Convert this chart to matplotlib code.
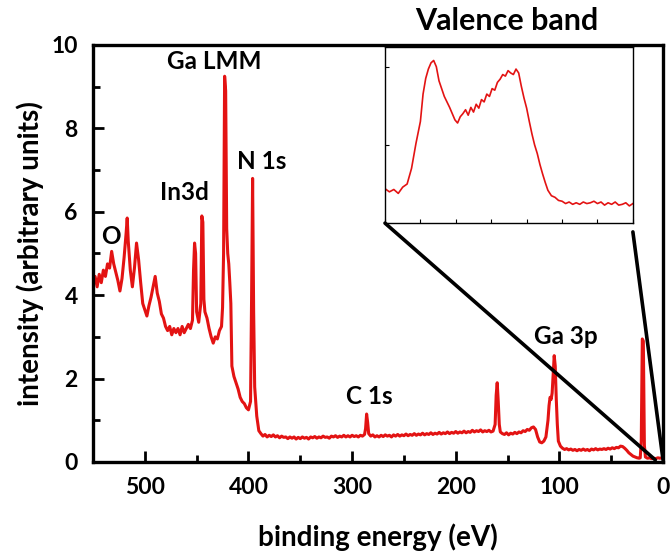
import matplotlib
matplotlib.use('Agg')
import matplotlib.pyplot as plt
from matplotlib.patches import ConnectionPatch
from matplotlib.ticker import MultipleLocator

plt.rcParams['font.family'] = ['Lato', 'DejaVu Sans']
plt.rcParams['font.weight'] = 'bold'

# survey spectrum (binding energy in eV, intensity)
energy = [550, 548, 546, 544, 542, 540, 538, 536, 534, 532, 530, 528, 526, 524, 522, 520,
          518, 517, 516, 514, 512, 510, 508, 506, 504, 502, 500, 498, 496, 494, 492, 490,
          488, 486, 484, 482, 480, 478, 476, 474, 472, 470, 468, 466, 464, 462, 460, 458,
          456, 454, 453, 452, 451, 450, 448, 446, 445, 444, 443, 442, 440, 438, 436, 434,
          432, 430, 428, 426, 425, 424, 423, 422, 421, 420, 419, 418, 417, 416, 414, 412,
          410, 408, 406, 404, 402, 400, 398, 397, 396, 395, 394, 392, 390,
          388, 386, 384, 382, 380, 378, 376, 374, 372, 370, 368, 366, 364, 362, 360, 358,
          356, 354, 352, 350, 348, 346, 344, 342, 340, 338, 336, 334, 332, 330, 328, 326,
          324, 322, 320, 318, 316, 314, 312, 310, 308, 306, 304, 302, 300, 298, 296, 294,
          292, 290, 288, 287, 286, 285, 284, 282,
          280, 278, 276, 274, 272, 270, 268, 266, 264, 262, 260, 258, 256, 254, 252, 250,
          248, 246, 244, 242, 240, 238, 236, 234, 232, 230, 228, 226, 224, 222, 220, 218,
          216, 214, 212, 210, 208, 206, 204, 202, 200, 198, 196, 194, 192, 190, 188, 186,
          184, 182, 180, 178, 176, 174, 172, 170, 168, 166, 164, 162, 161, 160, 159, 158, 157,
          155, 153, 151, 149, 147, 145, 143, 141, 139, 137, 135, 133, 131, 129, 127, 125,
          123, 121, 119, 117, 115, 113, 111, 110, 109, 108, 107, 106, 105, 104, 103, 102,
          101, 99, 97, 95, 93, 91, 89, 87, 85, 83, 81, 79, 77, 75, 73, 71,
          69, 67, 65, 63, 61, 59, 57, 55, 53, 51, 49, 47, 45, 43, 41, 39,
          37, 35, 33, 31, 29, 27, 25, 23, 22, 21, 20, 19, 18, 17, 15, 13,
          11, 9, 7, 5, 3, 1, 0]
intensity = [4.25, 4.45, 4.2, 4.5, 4.3, 4.6, 4.45, 4.75, 4.65, 5.05, 4.75, 4.55, 4.35, 4.1, 4.4, 4.9,
             5.5, 5.85, 5.3, 4.6, 4.2, 4.65, 5.25, 4.85, 4.3, 3.8, 3.65, 3.5, 3.75, 3.95, 4.2, 4.45,
             4.05, 3.85, 3.55, 3.45, 3.25, 3.15, 3.25, 3.05, 3.2, 3.1, 3.2, 3.05, 3.25, 3.1, 3.2, 3.3,
             3.2, 3.4, 4.6, 5.25, 5.0, 3.6, 3.35, 3.8, 5.9, 5.75, 3.9, 3.6, 3.45, 3.2, 3.0, 2.85,
             3.0, 2.95, 3.15, 3.25, 3.7, 5.0, 9.25, 8.9, 5.6, 5.0, 4.75, 4.3, 3.8, 2.3, 2.05, 1.9,
             1.75, 1.55, 1.45, 1.4, 1.3, 1.25, 1.45, 3.9, 6.8, 3.6, 1.8, 1.1, 0.75,
             0.68, 0.62, 0.66, 0.6, 0.64, 0.61, 0.65, 0.6, 0.63, 0.58, 0.62, 0.59, 0.6, 0.56, 0.6, 0.57,
             0.6, 0.55, 0.59, 0.56, 0.6, 0.57, 0.59, 0.55, 0.6, 0.58, 0.61, 0.57, 0.6, 0.58, 0.62, 0.59,
             0.6, 0.57, 0.62, 0.6, 0.63, 0.59, 0.62, 0.6, 0.64, 0.6, 0.63, 0.6, 0.64, 0.61, 0.63, 0.6,
             0.64, 0.62, 0.66, 0.8, 1.15, 0.95, 0.68, 0.62,
             0.65, 0.6, 0.63, 0.6, 0.64, 0.61, 0.65, 0.62, 0.64, 0.6, 0.65, 0.62, 0.66, 0.62, 0.65, 0.63,
             0.67, 0.63, 0.66, 0.64, 0.68, 0.64, 0.67, 0.65, 0.69, 0.65, 0.68, 0.66, 0.7, 0.66, 0.69, 0.67,
             0.71, 0.67, 0.7, 0.68, 0.72, 0.68, 0.71, 0.69, 0.73, 0.69, 0.72, 0.7, 0.74, 0.7, 0.73, 0.71,
             0.76, 0.72, 0.75, 0.73, 0.77, 0.72, 0.75, 0.73, 0.76, 0.72, 0.74, 0.9, 1.6, 1.9, 1.45, 0.9, 0.72,
             0.68, 0.66, 0.7, 0.65, 0.69, 0.67, 0.71, 0.68, 0.72, 0.7, 0.75, 0.73, 0.78, 0.76, 0.82, 0.84,
             0.78, 0.6, 0.48, 0.46, 0.5, 0.6, 1.0, 1.35, 1.55, 1.5, 1.65, 2.1, 2.55, 2.3, 1.5, 0.9,
             0.5, 0.38, 0.33, 0.3, 0.32, 0.29, 0.31, 0.28, 0.3, 0.27, 0.3, 0.28, 0.31, 0.28, 0.3, 0.27,
             0.31, 0.29, 0.32, 0.29, 0.31, 0.3, 0.32, 0.3, 0.33, 0.31, 0.34, 0.32, 0.35, 0.34, 0.38, 0.37,
             0.33, 0.28, 0.22, 0.18, 0.14, 0.12, 0.1, 0.09, 0.1, 0.5, 2.95, 2.9, 0.4, 0.12, 0.09, 0.1,
             0.08, 0.09, 0.08, 0.1, 0.09, 0.1, 0.12]

# valence band inset
vb_energy = [14.0, 13.75, 13.5, 13.25, 13.0, 12.75, 12.5, 12.25, 12.0, 11.85, 11.7, 11.55, 11.4,
             11.25, 11.1, 10.95, 10.8, 10.65, 10.5, 10.35, 10.2, 10.05, 9.9, 9.75, 9.6, 9.45,
             9.3, 9.15, 9.0, 8.85, 8.7, 8.55, 8.4, 8.25, 8.1, 7.95, 7.8, 7.65, 7.5, 7.35, 7.2,
             7.05, 6.9, 6.75, 6.6, 6.45, 6.3, 6.15, 6.0, 5.85, 5.7, 5.55, 5.4, 5.25, 5.1, 4.95,
             4.8, 4.6, 4.4, 4.2, 4.0, 3.8, 3.6, 3.4, 3.2, 3.0, 2.8, 2.6, 2.4, 2.2, 2.0, 1.8,
             1.6, 1.4, 1.2, 1.0, 0.8, 0.6, 0.4, 0.2, 0.0]
vb_intensity = [0.44, 0.40, 0.43, 0.38, 0.46, 0.50, 0.70, 1.02, 1.30, 1.65, 1.85, 1.97, 2.05,
                2.08, 2.0, 1.82, 1.72, 1.62, 1.55, 1.48, 1.40, 1.32, 1.28, 1.36, 1.40, 1.45,
                1.38, 1.48, 1.42, 1.52, 1.47, 1.58, 1.55, 1.65, 1.62, 1.72, 1.70, 1.80, 1.84, 1.90, 1.88,
                1.95, 1.92, 1.90, 1.97, 1.92, 1.75, 1.60, 1.47, 1.30, 1.14, 1.00, 0.89, 0.75, 0.63, 0.52,
                0.42, 0.35, 0.33, 0.29, 0.28, 0.25, 0.27, 0.24, 0.26, 0.24, 0.27, 0.25, 0.26, 0.28, 0.25, 0.27,
                0.23, 0.26, 0.24, 0.27, 0.23, 0.24, 0.26, 0.22, 0.25]

peak_labels = ['O', 'In3d', 'Ga LMM', 'N 1s', 'C 1s', 'Ga 3p']
peak_x = [533, 462, 433, 387, 283, 94]
peak_y = [5.4, 6.47, 9.6, 7.2, 1.56, 3.02]

red = '#e31313'

fig = plt.figure(figsize=(6.7, 5.55), dpi=100)
ax = fig.add_axes([0.1388, 0.1676, 0.8508, 0.7514])
ax.plot(energy, intensity, color=red, lw=2.2)
ax.set_xlim(550, 0)
ax.set_ylim(0, 10)
ax.xaxis.set_major_locator(MultipleLocator(100))
ax.xaxis.set_minor_locator(MultipleLocator(50))
ax.yaxis.set_major_locator(MultipleLocator(2))
ax.yaxis.set_minor_locator(MultipleLocator(1))
ax.tick_params(which='both', direction='in', width=2, labelsize=16.5)
ax.tick_params(which='major', length=8, pad=11)
ax.tick_params(which='minor', length=5)
for s in ax.spines.values():
    s.set_linewidth(2.4)
ax.set_xlabel('binding energy (eV)', fontsize=20, fontweight='bold', labelpad=18)
ax.set_ylabel('intensity (arbitrary units)', fontsize=20, fontweight='bold', labelpad=5)

for lab, x, y in zip(peak_labels, peak_x, peak_y):
    ax.text(x, y, lab, fontsize=17.5, fontweight='bold', ha='center', va='center')

ins = fig.add_axes([0.5746, 0.598, 0.370, 0.317])
ins.plot(vb_energy, vb_intensity, color=red, lw=1.2)
ins.set_xlim(14, 0)
ins.set_ylim(0, 2.25)
ins.xaxis.set_major_locator(MultipleLocator(2))
ins.yaxis.set_major_locator(MultipleLocator(1))
ins.tick_params(direction='in', length=3, width=0.8, labelbottom=False, labelleft=False)
for s in ins.spines.values():
    s.set_linewidth(1.0)
fig.text(0.757, 0.962, 'Valence band', fontsize=22, fontweight='bold', ha='center', va='center')

# zoom connectors from inset to the low binding energy region
for xa, ya, xb in [(0, 0, 7.5), (1, -0.05, 0)]:
    con = ConnectionPatch(xyA=(xa, ya), coordsA='axes fraction', axesA=ins,
                          xyB=(xb, 0.05), coordsB='data', axesB=ax,
                          color='black', lw=2.6)
    fig.add_artist(con)

fig.savefig('out.png', dpi=100)
